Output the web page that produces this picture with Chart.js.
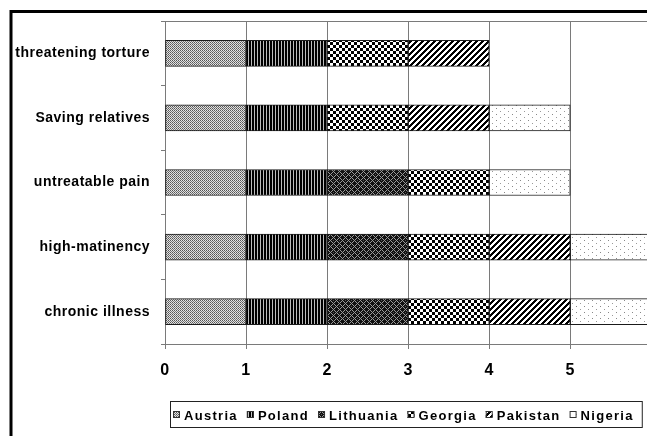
<!DOCTYPE html>
<html>
<head>
<meta charset="utf-8">
<script src="https://cdn.jsdelivr.net/npm/chart.js@4/dist/chart.umd.min.js"></script>
<style>
html,body{margin:0;padding:0;background:#fff;overflow:hidden;width:647px;height:436px;}
canvas{display:block;}
</style>
</head>
<body>
<canvas id="c" width="668" height="436" style="width:668px;height:436px"></canvas>
<script>
// ---- data ----
const categories = ['threatening torture', 'Saving relatives', 'untreatable pain', 'high-matinency', 'chronic illness'];
const seriesNames = ['Austria', 'Poland', 'Lithuania', 'Georgia', 'Pakistan', 'Nigeria'];
const austria   = [1, 1, 1, 1, 1];
const poland    = [1, 1, 1, 1, 1];
const lithuania = [null, null, 1, 1, 1];
const georgia   = [1, 1, 1, 1, 1];
const pakistan  = [1, 1, null, 1, 1];
const nigeria   = [null, 1, 1, 1, 1];
const xTickValues = [0, 1, 2, 3, 4, 5, 6];

// ---- patterns ----
function makePattern(w, h, painter) {
  const t = document.createElement('canvas');
  t.width = w; t.height = h;
  const g = t.getContext('2d');
  g.fillStyle = '#fff'; g.fillRect(0, 0, w, h);
  painter(g, w, h);
  return document.getElementById('c').getContext('2d').createPattern(t, 'repeat');
}
function px(g, x, y, col) { g.fillStyle = col; g.fillRect(x, y, 1, 1); }

const patAustria = makePattern(2, 2, g => { px(g,0,0,'#555'); px(g,1,1,'#777'); px(g,1,0,'#e6e6e6'); px(g,0,1,'#dcdcdc'); });
const patPoland = makePattern(3, 1, g => { px(g,0,0,'#000'); px(g,1,0,'#000'); px(g,2,0,'#bdbdbd'); });
const patLithuania = makePattern(6, 6, g => {
  g.fillStyle = '#111'; g.fillRect(0,0,6,6);
  for (let y = 0; y < 6; y++) for (let x = 0; x < 6; x++) {
    if ((x + y) % 6 === 0 || ((x - y) % 6 + 6) % 6 === 0) px(g, x, y, '#9a9a9a');
  }
  px(g,3,0,'#555');
});
const patGeorgia = makePattern(6, 6, g => { g.fillStyle = '#000'; g.fillRect(0,0,3,3); g.fillRect(3,3,3,3); });
const patPakistan = makePattern(6, 6, g => {
  for (let y = 0; y < 6; y++) for (let x = 0; x < 6; x++) if ((x + y) % 6 < 3) px(g, x, y, '#000');
});
const patNigeria = makePattern(8, 6, g => { px(g,0,0,'#888'); px(g,4,3,'#999'); });
const patterns = [patAustria, patPoland, patLithuania, patGeorgia, patPakistan, patNigeria];
const seriesData = [austria, poland, lithuania, georgia, pakistan, nigeria];

const datasets = seriesNames.map((n, i) => ({
  label: n,
  data: seriesData[i],
  backgroundColor: patterns[i],
  borderColor: '#1a1a1a',
  borderWidth: 1,
  borderSkipped: false,
  barThickness: 26
}));

const frame = {
  id: 'frame',
  beforeUpdate(chart) { chart.ctx.letterSpacing = '0.5px'; },
  beforeDraw(chart) { chart.ctx.letterSpacing = '0.5px'; },
  afterDraw(chart) {
    const ctx = chart.ctx, a = chart.chartArea;
    ctx.save();
    // plot top border
    ctx.strokeStyle = '#7a7a7a'; ctx.lineWidth = 1;
    ctx.beginPath(); ctx.moveTo(a.left - 0.5, a.top + 0.5); ctx.lineTo(chart.width, a.top + 0.5); ctx.stroke();
    // outer frame
    ctx.strokeStyle = '#000'; ctx.lineWidth = 3;
    ctx.beginPath(); ctx.moveTo(11, 436); ctx.lineTo(11, 11.5); ctx.lineTo(chart.width, 11.5); ctx.stroke();
    // legend
    ctx.font = 'bold 13px "Liberation Sans", Arial, sans-serif';
    ctx.letterSpacing = '1.3px';
    ctx.textBaseline = 'middle';
    ctx.textAlign = 'left';
    let x = 173;
    const cy = 415;
    const startX = x;
    seriesNames.forEach((n, i) => {
      ctx.fillStyle = patterns[i];
      ctx.fillRect(x, cy - 4, 7, 7);
      ctx.strokeStyle = '#333'; ctx.lineWidth = 1;
      ctx.strokeRect(x + 0.5, cy - 3.5, 6, 6);
      x += 11;
      ctx.fillStyle = '#000';
      ctx.fillText(n, x, cy + 1);
      x += ctx.measureText(n).width + (i < seriesNames.length - 1 ? 9 : 0);
    });
    ctx.strokeStyle = '#222'; ctx.lineWidth = 1;
    ctx.strokeRect(startX - 2.5, 401.5, x - startX + 11, 26);
    ctx.restore();
  }
};

new Chart(document.getElementById('c'), {
  type: 'bar',
  data: { labels: categories, datasets },
  options: {
    indexAxis: 'y',
    responsive: false,
    animation: false,
    layout: { padding: { left: 0, top: 21, right: 9, bottom: 52 } },
    plugins: { legend: { display: false }, tooltip: { enabled: false } },
    scales: {
      x: {
        stacked: true,
        min: 0, max: 6,
        afterBuildTicks(s) { s.ticks = xTickValues.map(v => ({ value: v })); },
        afterFit(s) { s.height = 40; },
        grid: { color: '#7a7a7a', lineWidth: 1, tickLength: 5, drawTicks: true },
        border: { color: '#7a7a7a' },
        ticks: { color: '#000', font: { family: '"Liberation Sans", Arial, sans-serif', size: 16, weight: 'bold' }, padding: 12, maxRotation: 0 }
      },
      y: {
        stacked: true,
        afterFit(s) { s.width = 165; },
        grid: { offset: true, drawOnChartArea: false, tickLength: 4, color: '#7a7a7a' },
        border: { color: '#7a7a7a' },
        ticks: { color: '#000', font: { family: '"Liberation Sans", Arial, sans-serif', size: 14, weight: 'bold' }, padding: 11 }
      }
    }
  },
  plugins: [frame]
});
</script>
</body>
</html>
